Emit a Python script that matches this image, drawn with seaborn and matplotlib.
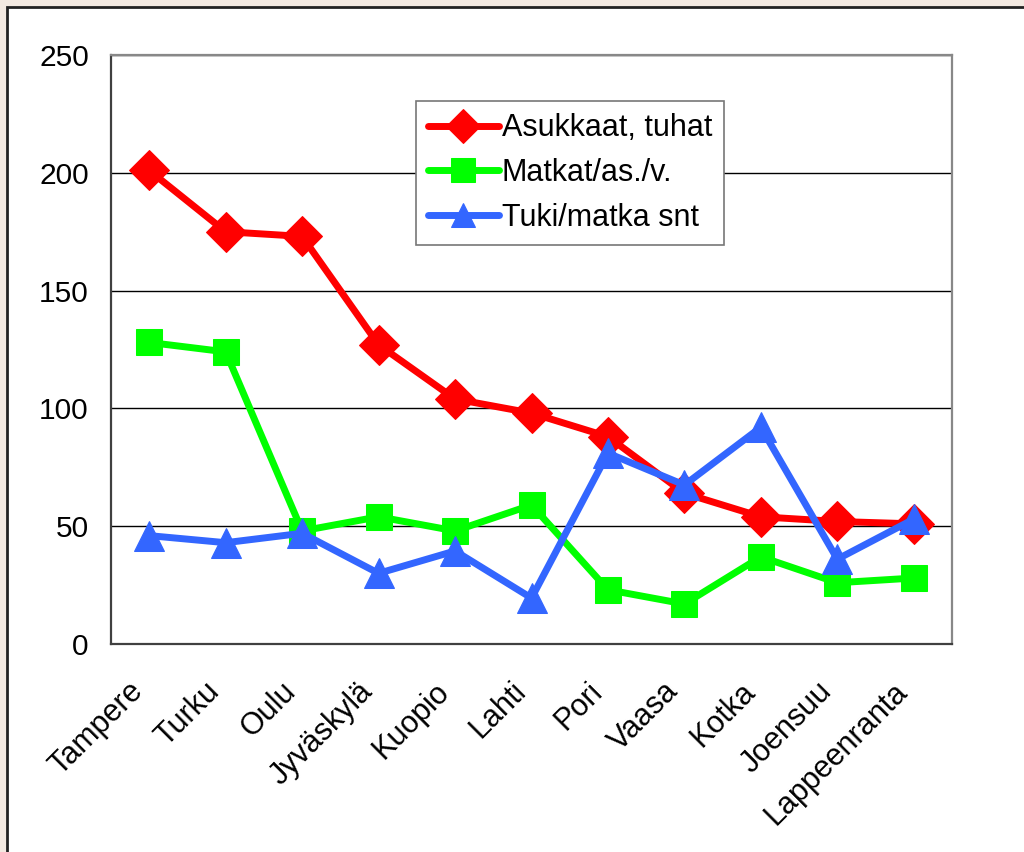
import matplotlib
matplotlib.use("Agg")
import matplotlib.pyplot as plt
from matplotlib.patches import Rectangle
from matplotlib.transforms import ScaledTranslation
import pandas as pd
import seaborn as sns

# Kaupungit ja sarjat (luettu kuvasta)
cities = ['Tampere', 'Turku', 'Oulu', 'Jyväskylä', 'Kuopio', 'Lahti',
          'Pori', 'Vaasa', 'Kotka', 'Joensuu', 'Lappeenranta']
asukkaat = [201, 175, 173, 127, 104, 98, 88, 64, 54, 52, 51]
matkat = [128, 124, 48, 54, 48, 59, 23, 17, 37, 26, 28]
tuki = [46, 43, 47, 30, 39.5, 19.5, 81, 67.5, 92, 36, 53]

series = [
    ('Asukkaat, tuhat', asukkaat, '#ff0000', 'D', 20),
    ('Matkat/as./v.', matkat, '#00ff00', 's', 19),
    ('Tuki/matka snt', tuki, '#3366ff', '^', 22),
]

sns.set_style("white")
plt.rcParams['font.family'] = ['Liberation Sans', 'DejaVu Sans']
plt.rcParams['text.color'] = 'black'
plt.rcParams['xtick.color'] = 'black'
plt.rcParams['ytick.color'] = 'black'

fig = plt.figure(figsize=(10.24, 8.52), dpi=100)
fig.patch.set_facecolor('#f3e9e1')
fig.add_artist(Rectangle((7 / 1024, -0.1), 1.1, 1.1 - 7 / 852,
                         transform=fig.transFigure, facecolor='white',
                         edgecolor='#222222', linewidth=2, zorder=-1))

ax = fig.add_axes([111 / 1024, 1 - 644 / 852, (952 - 111) / 1024, (644 - 55) / 852])
ax.set_facecolor('white')

x = list(range(len(cities)))
for name, vals, color, marker, ms in series:
    df = pd.DataFrame({'x': x, 'y': vals})
    sns.lineplot(data=df, x='x', y='y', ax=ax, color=color, linewidth=5,
                 marker=marker, markersize=ms, markeredgecolor=color,
                 label=name, zorder=3)

ax.set_xlim(-0.5, len(cities) - 0.5)
ax.set_ylim(0, 250)
ax.set_yticks(range(0, 251, 50))
ax.yaxis.grid(True, color='black', linewidth=1)
ax.set_axisbelow(True)

ax.set_xticks([i - 0.5 for i in range(len(cities) + 1)])
ax.set_xticklabels([])
ax.set_xticks(x, minor=True)
ax.set_xticklabels(cities, minor=True, rotation=45, ha='right',
                   rotation_mode='anchor', fontsize=22, color='black')
ax.tick_params(axis='x', which='minor', length=0, pad=14)
ax.tick_params(axis='x', which='major', length=9, width=1.2, color='#404040', direction='out')
ax.tick_params(axis='y', length=9, width=1.2, color='#404040', direction='out',
               labelsize=21.5, labelcolor='black', pad=7)
for lab in ax.get_xticklabels(minor=True):
    lab.set_transform(lab.get_transform() +
                      ScaledTranslation(-0.21, -0.13, fig.dpi_scale_trans))
ax.set_xlabel('')
ax.set_ylabel('')

for side in ['left', 'bottom']:
    ax.spines[side].set_color('#404040')
    ax.spines[side].set_linewidth(1.6)
for side in ['top', 'right']:
    ax.spines[side].set_color('#888888')
    ax.spines[side].set_linewidth(1.6)

ax.get_legend().remove()
handles, labels = ax.get_legend_handles_labels()
leg = fig.legend(handles, labels, loc='upper left',
                 bbox_to_anchor=(416 / 1024, 1 - 101 / 852),
                 bbox_transform=fig.transFigure, fontsize=22, frameon=True,
                 fancybox=False, framealpha=1, edgecolor='#777777',
                 handlelength=2.3, handletextpad=0.1, labelspacing=0.48,
                 borderpad=0.4, borderaxespad=0)
leg.get_frame().set_linewidth(1.2)
for h in leg.legend_handles:
    h.set_markersize(17)

fig.savefig('out.png', dpi=100)
